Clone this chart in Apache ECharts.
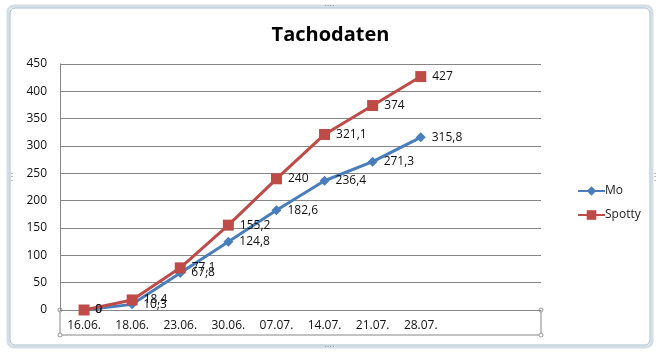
<!DOCTYPE html>
<html><head><meta charset="utf-8">
<script src="https://cdn.jsdelivr.net/npm/echarts@6/dist/echarts.min.js"></script>
<style>html,body{margin:0;padding:0;background:#fff}#c{width:661px;height:357px}</style>
</head><body><div id="c"></div>
<script>
const title = 'Tachodaten';
const categories = ['16.06.', '18.06.', '23.06.', '30.06.', '07.07.', '14.07.', '21.07.', '28.07.'];
const emptySlots = ['', ''];
const moValues = [0, 10.3, 67.8, 124.8, 182.6, 236.4, 271.3, 315.8];
const spottyValues = [0, 18.4, 77.1, 155.2, 240, 321.1, 374, 427];
const seriesNames = ['Mo', 'Spotty'];

const font = '"Open Sans", "DejaVu Sans", sans-serif';
const chart = echarts.init(document.getElementById('c'), null, {renderer: 'canvas'});
const fmt = p => String(p.value).replace('.', ',');

chart.setOption({
  animation: false,
  backgroundColor: '#fff',
  title: {
    text: title, left: 'center', top: 20,
    textStyle: {fontFamily: font, fontWeight: 'bold', fontSize: 20, color: '#000'}
  },
  legend: {
    orient: 'vertical', left: 572, top: 180, itemGap: 12,
    itemWidth: 27, itemHeight: 12,
    data: seriesNames,
    textStyle: {fontFamily: font, fontSize: 12, color: '#222', padding: [0, 0, 0, -5]}
  },
  grid: {left: 60, right: 120, top: 64, bottom: 47},
  xAxis: {
    type: 'category',
    data: categories.concat(emptySlots),
    boundaryGap: true,
    axisLine: {lineStyle: {color: '#868686'}},
    axisTick: {show: false},
    axisLabel: {fontFamily: font, fontSize: 12, color: '#111', margin: 10, interval: 0}
  },
  yAxis: {
    type: 'value', min: 0, max: 450, interval: 50,
    axisLine: {show: true, lineStyle: {color: '#868686'}},
    axisTick: {show: false},
    splitLine: {lineStyle: {color: '#868686'}},
    axisLabel: {fontFamily: font, fontSize: 12, color: '#111', margin: 13}
  },
  series: [
    {
      name: seriesNames[0], type: 'line', data: moValues,
      symbol: 'diamond', symbolSize: 10,
      lineStyle: {width: 3, color: '#4A7EBB'},
      itemStyle: {color: '#4A7EBB'},
      label: {show: true, position: 'right', distance: 6, formatter: fmt,
        fontFamily: font, fontSize: 12, color: '#111'},
      z: 2
    },
    {
      name: seriesNames[1], type: 'line', data: spottyValues,
      symbol: 'rect', symbolSize: 11,
      lineStyle: {width: 3, color: '#BE4B48'},
      itemStyle: {color: '#BE4B48'},
      label: {show: true, position: 'right', distance: 6, formatter: fmt,
        fontFamily: font, fontSize: 12, color: '#111'},
      z: 3
    }
  ],
  graphic: [
    {type: 'rect', shape: {x: 8, y: 6, width: 644, height: 341, r: 6},
      style: {fill: 'none', stroke: '#d3dee6', lineWidth: 3}, silent: true, z: -1},
    {type: 'rect', shape: {x: 10, y: 8, width: 640, height: 337, r: 5},
      style: {fill: 'none', stroke: '#a9bccb', lineWidth: 1}, silent: true, z: -1},
    {type: 'polyline', shape: {points: [[60, 310], [60, 335], [541, 335], [541, 310]]},
      style: {fill: 'none', stroke: '#868686', lineWidth: 1}, silent: true},
    {type: 'circle', shape: {cx: 60, cy: 310, r: 2}, style: {fill: '#fff', stroke: '#999'}, silent: true},
    {type: 'circle', shape: {cx: 60, cy: 335, r: 2}, style: {fill: '#fff', stroke: '#999'}, silent: true},
    {type: 'circle', shape: {cx: 541, cy: 310, r: 2}, style: {fill: '#fff', stroke: '#999'}, silent: true},
    {type: 'circle', shape: {cx: 541, cy: 335, r: 2}, style: {fill: '#fff', stroke: '#999'}, silent: true},
    {type: 'text', left: 324, top: 2, style: {text: '····', fill: '#7a8a96', font: '8px sans-serif'}, silent: true},
    {type: 'text', left: 324, top: 343, style: {text: '····', fill: '#7a8a96', font: '8px sans-serif'}, silent: true},
    {type: 'text', left: 7, top: 172, style: {text: '⋮', fill: '#7a8a96', font: '10px sans-serif'}, silent: true},
    {type: 'text', left: 650, top: 172, style: {text: '⋮', fill: '#7a8a96', font: '10px sans-serif'}, silent: true}
  ]
});
</script></body></html>
